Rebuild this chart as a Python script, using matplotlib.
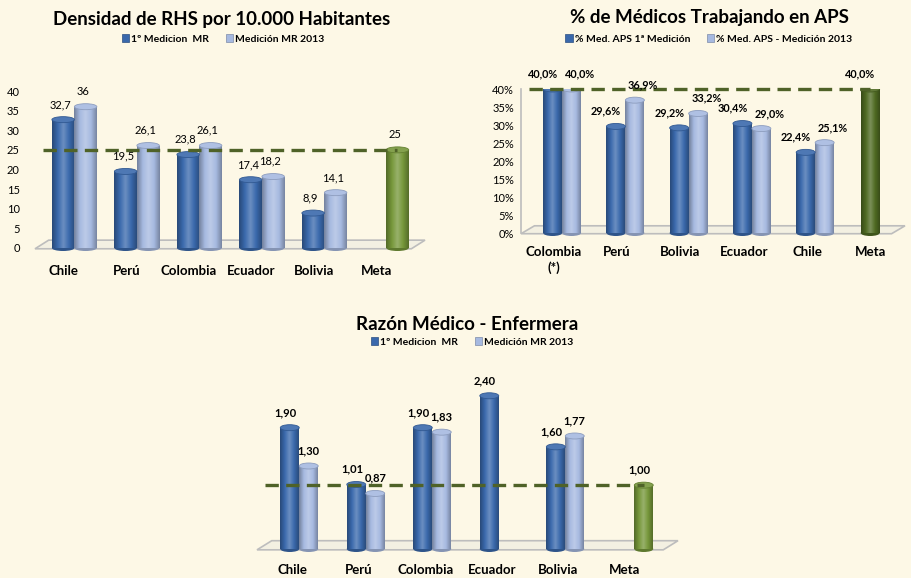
import numpy as np
import matplotlib
matplotlib.use("Agg")
import matplotlib.pyplot as plt
from matplotlib.patches import Ellipse, Polygon, Patch
from matplotlib.colors import LinearSegmentedColormap, to_rgb

# ---- data ----
dens_cats = ["Chile", "Perú", "Colombia", "Ecuador", "Bolivia", "Meta"]
dens_first = [32.7, 19.5, 23.8, 17.4, 8.9]
dens_2013 = [36.0, 26.1, 26.1, 18.2, 14.1]
dens_meta = 25.0

aps_cats = ["Colombia\n(*)", "Perú", "Bolivia", "Ecuador", "Chile", "Meta"]
aps_first = [40.0, 29.6, 29.2, 30.4, 22.4]
aps_2013 = [40.0, 36.9, 33.2, 29.0, 25.1]
aps_meta = 40.0

raz_cats = ["Chile", "Perú", "Colombia", "Ecuador", "Bolivia", "Meta"]
raz_first = [1.90, 1.01, 1.90, 2.40, 1.60]
raz_2013 = [1.30, 0.87, 1.83, np.nan, 1.77]
raz_meta = 1.00

# ---- style ----
BG = "#FDF8E6"
DARK_BLUE = "#3A69AC"
LIGHT_BLUE = "#A6B9E0"
GREEN = "#76973A"
DARK_GREEN = "#4F6A22"
LINE_GREEN = "#4F6228"
FONT = ["Lato", "DejaVu Sans"]

plt.rcParams["font.family"] = FONT

fig = plt.figure(figsize=(9.11, 5.78), dpi=100)
fig.patch.set_facecolor(BG)


def shade(c, f):
    r = np.array(to_rgb(c))
    if f < 1:
        return tuple(r * f)
    return tuple(r + (1 - r) * (f - 1))


def cylinder(ax, x, h, w, color, zorder=3):
    if np.isnan(h):
        return
    rect = ax.bar(x, h, w, color=color, zorder=zorder, linewidth=0)[0]
    cmap = LinearSegmentedColormap.from_list(
        "cyl", [shade(color, 0.7), shade(color, 1.0), shade(color, 1.25),
                shade(color, 1.0), shade(color, 0.72)])
    grad = np.linspace(0, 1, 64).reshape(1, -1)
    im = ax.imshow(grad, extent=(x - w / 2, x + w / 2, 0, h), aspect="auto",
                   cmap=cmap, zorder=zorder + 0.1, interpolation="bilinear")
    im.set_clip_path(rect)
    # cap height in data units (~6 px)
    inv = ax.transData.inverted()
    p0 = inv.transform((0, 0))
    p1 = inv.transform((0, 6))
    cap = p1[1] - p0[1]
    top = Ellipse((x, h), w, cap, facecolor=shade(color, 1.1),
                  edgecolor=shade(color, 0.85), linewidth=0.6, zorder=zorder + 0.3)
    ax.add_patch(top)
    bot = Ellipse((x, 0), w, cap, facecolor=shade(color, 0.8), linewidth=0,
                  zorder=zorder - 0.1, clip_on=False)
    ax.add_patch(bot)


def floor(ax):
    pts = [(0.0, -0.005), (0.965, -0.005), (1.0, 0.05), (0.035, 0.05)]
    ax.add_patch(Polygon(pts, closed=True, transform=ax.transAxes,
                         facecolor="#F3F0E2", edgecolor="#BDBDBD", linewidth=1.2,
                         zorder=1, clip_on=False))


def setup(ax, xlim, ylim):
    ax.set_facecolor("none")
    ax.set_xlim(*xlim)
    ax.set_ylim(*ylim)
    ax.set_autoscale_on(False)
    for s in ax.spines.values():
        s.set_visible(False)
    ax.tick_params(length=0)


def draw(ax, cats, s1, s2, meta, meta_color, pair_off, meta_off, w, fmt,
         label_bold, dx1, dx2, lab_size):
    x = np.arange(len(cats))
    n = len(s1)
    for i in range(n):
        c = x[i] + pair_off
        cylinder(ax, c - w / 2, s1[i], w, DARK_BLUE)
        cylinder(ax, c + w / 2, s2[i], w, LIGHT_BLUE)
    mx = x[-1] + meta_off
    cylinder(ax, mx, meta, w, meta_color)
    # labels
    vals = [(x[i] + pair_off - w / 2, s1[i], dx1) for i in range(n)]
    vals += [(x[i] + pair_off + w / 2, s2[i], dx2) for i in range(n)]
    vals += [(mx, meta, dx1)]
    for xx, v, dx in vals:
        if np.isnan(v):
            continue
        ax.annotate(fmt(v), (xx, v), xytext=(dx, 7), textcoords="offset points",
                    ha="center", va="bottom", fontsize=lab_size,
                    fontweight="bold" if label_bold else "normal", zorder=6)
    # meta line
    ax.plot([ax.get_xlim()[0] + 0.12, mx], [meta, meta], ls=(0, (4, 2.2)),
            color=LINE_GREEN, lw=2.4, zorder=5, clip_on=False)
    ax.set_xticks(x)
    ax.set_xticklabels(cats, fontsize=9.5, fontweight="bold", linespacing=1.4)


def fmt_dens(v):
    if float(v).is_integer():
        return str(int(v))
    return f"{v:.1f}".replace(".", ",")


def fmt_aps(v):
    return f"{v:.1f}%".replace(".", ",")


def fmt_raz(v):
    return f"{v:.2f}".replace(".", ",")


def legend(x, y, labels, colors):
    handles = [Patch(facecolor=c, edgecolor=shade(c, 0.75), linewidth=0.5) for c in colors]
    fig.legend(handles, labels, loc="center", bbox_to_anchor=(x, y), ncol=2,
               frameon=False, prop={"size": 7.5, "weight": "bold", "family": FONT},
               handlelength=0.7, handleheight=0.7, handletextpad=0.2,
               columnspacing=1.6)


# ---- chart 1: densidad ----
ax1 = fig.add_axes([35 / 911, 1 - 248 / 578, 390 / 911, 157 / 578])
setup(ax1, (-0.46, 5.78), (0, 40))
floor(ax1)
draw(ax1, dens_cats, dens_first, dens_2013, dens_meta, GREEN, 0.17, 0.34, 0.36,
     fmt_dens, False, -2, -2, 8)
ax1.set_yticks(np.arange(0, 41, 5))
ax1.tick_params(axis="y", labelsize=8, pad=11)
ax1.tick_params(axis="x", pad=12)
fig.text(222 / 911, 1 - 20 / 578, "Densidad de RHS por 10.000 Habitantes",
         ha="center", va="center", fontsize=13.5, fontweight="bold")
legend(223 / 911, 1 - 39 / 578, ["1º Medicion  MR", "Medición MR 2013"],
       [DARK_BLUE, LIGHT_BLUE])

# ---- chart 2: % medicos APS ----
ax2 = fig.add_axes([521 / 911, 1 - 233 / 578, 384 / 911, 144 / 578])
setup(ax2, (-0.52, 5.55), (0, 40))
floor(ax2)
ax2.spines["left"].set_visible(True)
ax2.spines["left"].set_color("#BDBDBD")
ax2.spines["left"].set_linewidth(1.2)
draw(ax2, aps_cats, aps_first, aps_2013, aps_meta, DARK_GREEN, 0.13, 0.0, 0.30,
     fmt_aps, True, -7, 6, 7.8)
ax2.set_yticks(np.arange(0, 41, 5))
ax2.set_yticklabels([f"{t}%" for t in range(0, 41, 5)])
ax2.tick_params(axis="y", labelsize=8, pad=5)
ax2.tick_params(axis="x", pad=9)
fig.text(709 / 911, 1 - 18 / 578, "% de Médicos Trabajando en APS",
         ha="center", va="center", fontsize=13.5, fontweight="bold")
legend(709 / 911, 1 - 39 / 578, ["% Med. APS 1ª Medición", "% Med. APS - Medición 2013"],
       [DARK_BLUE, LIGHT_BLUE])

# ---- chart 3: razon medico-enfermera ----
ax3 = fig.add_axes([257 / 911, 1 - 549 / 578, 421 / 911, 166 / 578])
setup(ax3, (-0.53, 5.8), (0, 2.6))
floor(ax3)
draw(ax3, raz_cats, raz_first, raz_2013, raz_meta, GREEN, 0.105, 0.285, 0.285,
     fmt_raz, True, -3, 0, 8)
ax3.set_yticks([])
ax3.tick_params(axis="x", pad=11)
fig.text(467 / 911, 1 - 324 / 578, "Razón Médico - Enfermera",
         ha="center", va="center", fontsize=13.5, fontweight="bold")
legend(472 / 911, 1 - 342 / 578, ["1º Medicion  MR", "Medición MR 2013"],
       [DARK_BLUE, LIGHT_BLUE])

fig.savefig("out.png", dpi=100, facecolor=BG)
